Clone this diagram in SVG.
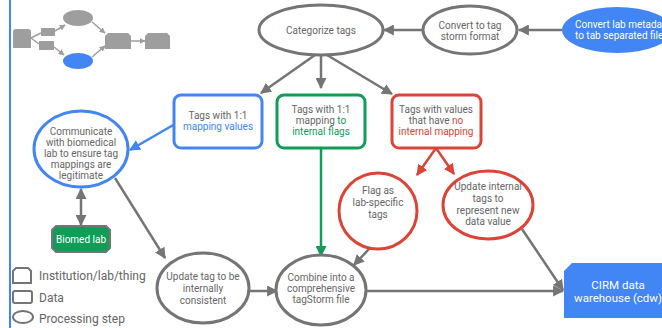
<svg xmlns="http://www.w3.org/2000/svg" width="662" height="328" viewBox="0 0 662 328">
  <style>
    text { font-family: Roboto, "Liberation Sans", sans-serif; font-size: 10px; fill: #666666; text-anchor: middle; }
    .proc { fill: #ffffff; stroke: #757575; stroke-width: 3; }
    .blue-s { stroke: #4285f4; }
    .green-s { stroke: #0f9d58; }
    .red-s { stroke: #db4437; }
    .box { fill: #ffffff; stroke-width: 3; }
    .edge { fill: none; stroke: #757575; stroke-width: 2.5; }
    .icon { fill: #9e9e9e; }
    .icon-edge { fill: none; stroke: #9e9e9e; stroke-width: 1.5; }
    .legend { fill: none; stroke: #757575; stroke-width: 2; }
    .tb { fill: #4285f4; }
    .tg { fill: #0f9d58; }
    .tr { fill: #db4437; }
    .white { fill: #ffffff; }
    .lg { font-size: 12px; text-anchor: start; }
  </style>
  <defs>
    <marker id="ah-gray" viewBox="0 0 10 10" refX="9" refY="5" markerWidth="11" markerHeight="11" markerUnits="userSpaceOnUse" orient="auto-start-reverse">
      <path d="M0,0 L10,5 L0,10 z" fill="#757575"/>
    </marker>
    <marker id="ah-blue" viewBox="0 0 10 10" refX="9" refY="5" markerWidth="11" markerHeight="11" markerUnits="userSpaceOnUse" orient="auto">
      <path d="M0,0 L10,5 L0,10 z" fill="#4285f4"/>
    </marker>
    <marker id="ah-green" viewBox="0 0 10 10" refX="9" refY="5" markerWidth="11" markerHeight="11" markerUnits="userSpaceOnUse" orient="auto">
      <path d="M0,0 L10,5 L0,10 z" fill="#0f9d58"/>
    </marker>
    <marker id="ah-red" viewBox="0 0 10 10" refX="9" refY="5" markerWidth="11" markerHeight="11" markerUnits="userSpaceOnUse" orient="auto">
      <path d="M0,0 L10,5 L0,10 z" fill="#db4437"/>
    </marker>
    <marker id="ah-icon" viewBox="0 0 10 10" refX="9" refY="5" markerWidth="6" markerHeight="6" markerUnits="userSpaceOnUse" orient="auto">
      <path d="M0,0 L10,5 L0,10 z" fill="#9e9e9e"/>
    </marker>
  </defs>

  <rect width="662" height="328" fill="#ffffff"/>
  <!-- left border rule -->
  <line x1="10" y1="0" x2="10" y2="328" stroke="#4285f4" stroke-width="2"/>

  <!-- small flow icon -->
  <g id="flow-icon">
    <path class="icon" d="M13,32 Q13,29 16,29 L28,29 Q31,29 31,32 L31,48 L13,48 z"/>
    <rect class="icon" x="41" y="28" width="14" height="8"/>
    <rect class="icon" x="39" y="41" width="15" height="9"/>
    <ellipse class="icon" cx="78" cy="18" rx="15" ry="8"/>
    <ellipse cx="78" cy="61" rx="15" ry="8" fill="#4285f4"/>
    <path class="icon" d="M108,33 L128,33 L131,36 L131,49 L105,49 L105,36 z"/>
    <path class="icon" d="M148,33 L167,33 L170,36 L170,49 L145,49 L145,36 z"/>
    <line class="icon-edge" x1="31" y1="38" x2="41" y2="33"/>
    <line class="icon-edge" x1="31" y1="38" x2="39" y2="44"/>
    <line class="icon-edge" x1="55" y1="31" x2="65" y2="25" marker-end="url(#ah-icon)"/>
    <line class="icon-edge" x1="54" y1="47" x2="64" y2="55" marker-end="url(#ah-icon)"/>
    <line class="icon-edge" x1="92" y1="22" x2="105" y2="33" marker-end="url(#ah-icon)"/>
    <line class="icon-edge" x1="92" y1="57" x2="105" y2="46" marker-end="url(#ah-icon)"/>
    <line class="icon-edge" x1="131" y1="41" x2="145" y2="41" marker-end="url(#ah-icon)"/>
  </g>

  <!-- connectors -->
  <g id="connectors">
    <line class="edge" x1="562" y1="30" x2="519" y2="30" marker-end="url(#ah-gray)"/>
    <line class="edge" x1="422" y1="30" x2="384" y2="30" marker-end="url(#ah-gray)"/>
    <line class="edge" x1="315" y1="55" x2="261" y2="93" marker-end="url(#ah-gray)"/>
    <line class="edge" x1="321" y1="55" x2="321" y2="88" marker-end="url(#ah-gray)"/>
    <line class="edge" x1="327" y1="55" x2="392" y2="94" marker-end="url(#ah-gray)"/>
    <line x1="175" y1="124" x2="130" y2="150" stroke="#4285f4" stroke-width="2.5" marker-end="url(#ah-blue)"/>
    <line x1="321" y1="148" x2="321" y2="256" stroke="#0f9d58" stroke-width="2.5" marker-end="url(#ah-green)"/>
    <line x1="436" y1="148" x2="417" y2="175" stroke="#db4437" stroke-width="2.5" marker-end="url(#ah-red)"/>
    <line x1="436" y1="148" x2="454" y2="174" stroke="#db4437" stroke-width="2.5" marker-end="url(#ah-red)"/>
    <line class="edge" x1="81" y1="189" x2="81" y2="225" marker-start="url(#ah-gray)" marker-end="url(#ah-gray)"/>
    <line class="edge" x1="115" y1="178" x2="165" y2="258" marker-end="url(#ah-gray)"/>
    <line class="edge" x1="249" y1="291" x2="277" y2="291" marker-end="url(#ah-gray)"/>
    <line class="edge" x1="384" y1="233" x2="354" y2="265" marker-end="url(#ah-gray)"/>
    <line class="edge" x1="366" y1="291" x2="563" y2="291" marker-end="url(#ah-gray)"/>
    <line class="edge" x1="522" y1="229" x2="563" y2="290" marker-end="url(#ah-gray)"/>
  </g>

  <!-- nodes -->
  <g id="convert-lab">
    <ellipse cx="617" cy="30" rx="55" ry="23" fill="#4285f4"/>
    <text class="white" x="575" y="28" style="text-anchor:start">Convert lab metadata</text>
    <text class="white" x="575" y="39" style="text-anchor:start">to tab separated file</text>
  </g>

  <g id="convert-tagstorm">
    <ellipse class="proc" cx="470" cy="30" rx="47" ry="24"/>
    <text x="470" y="29">Convert to tag</text>
    <text x="470" y="40">storm format</text>
  </g>

  <g id="categorize">
    <ellipse class="proc" cx="321" cy="30" rx="62" ry="25"/>
    <text x="321" y="34">Categorize tags</text>
  </g>

  <g id="tags-mapping-values">
    <rect class="box blue-s" x="174" y="95" width="88" height="53" rx="7"/>
    <text x="218" y="119">Tags with 1:1</text>
    <text class="tb" x="218" y="130">mapping values</text>
  </g>

  <g id="tags-internal-flags">
    <rect class="box green-s" x="277" y="95" width="88" height="53" rx="7"/>
    <text x="321" y="113">Tags with 1:1</text>
    <text x="321" y="124">mapping <tspan class="tg">to</tspan></text>
    <text class="tg" x="321" y="135">internal flags</text>
  </g>

  <g id="tags-no-mapping">
    <rect class="box red-s" x="392" y="95" width="89" height="53" rx="7"/>
    <text x="436" y="113">Tags with values</text>
    <text x="436" y="124">that have <tspan class="tr">no</tspan></text>
    <text class="tr" x="436" y="135">internal mapping</text>
  </g>

  <g id="communicate">
    <ellipse class="proc blue-s" cx="81" cy="149" rx="47" ry="38"/>
    <text x="81" y="135">Communicate</text>
    <text x="81" y="146">with biomedical</text>
    <text x="81" y="157">lab to ensure tag</text>
    <text x="81" y="168">mappings are</text>
    <text x="81" y="179">legitimate</text>
  </g>

  <g id="biomed-lab">
    <path d="M56,226 L106,226 L110,230 L110,248 L106,252 L56,252 L52,248 L52,230 z" fill="#0f9d58" stroke="#757575" stroke-width="2"/>
    <text class="white" x="81" y="243">Biomed lab</text>
  </g>

  <g id="flag-lab-specific">
    <ellipse class="proc red-s" cx="378" cy="211" rx="39" ry="38"/>
    <text x="378" y="194">Flag as</text>
    <text x="378" y="206">lab-specific</text>
    <text x="378" y="218">tags</text>
  </g>

  <g id="update-internal">
    <ellipse class="proc red-s" cx="488" cy="205" rx="45" ry="34"/>
    <text x="488" y="190">Update internal</text>
    <text x="488" y="202">tags to</text>
    <text x="488" y="214">represent new</text>
    <text x="488" y="225">data value</text>
  </g>

  <g id="update-consistent">
    <ellipse class="proc" cx="203" cy="288" rx="46" ry="35"/>
    <text x="203" y="280">Update tag to be</text>
    <text x="203" y="292">internally</text>
    <text x="203" y="304">consistent</text>
  </g>

  <g id="combine">
    <ellipse class="proc" cx="321" cy="290" rx="45" ry="35"/>
    <text x="321" y="281">Combine into a</text>
    <text x="321" y="292">comprehensive</text>
    <text x="321" y="303">tagStorm file</text>
  </g>

  <g id="cirm-cdw">
    <path d="M572,263 L662,263 L662,318 L564,318 L564,271 z" fill="#4285f4"/>
    <text class="white" x="618" y="289" style="font-size:11.5px">CIRM data</text>
    <text class="white" x="618" y="302" style="font-size:11.5px">warehouse (cdw)</text>
  </g>

  <!-- key -->
  <g id="legend">
    <path class="legend" d="M16,268 L28,268 L31,271 L31,283 L13,283 L13,271 z"/>
    <text class="lg" x="39" y="280">Institution/lab/thing</text>
    <rect class="legend" x="13" y="291" width="19" height="12" rx="2"/>
    <text class="lg" x="39" y="302">Data</text>
    <ellipse class="legend" cx="23" cy="317" rx="10" ry="6"/>
    <text class="lg" x="39" y="323">Processing step</text>
  </g>
</svg>
